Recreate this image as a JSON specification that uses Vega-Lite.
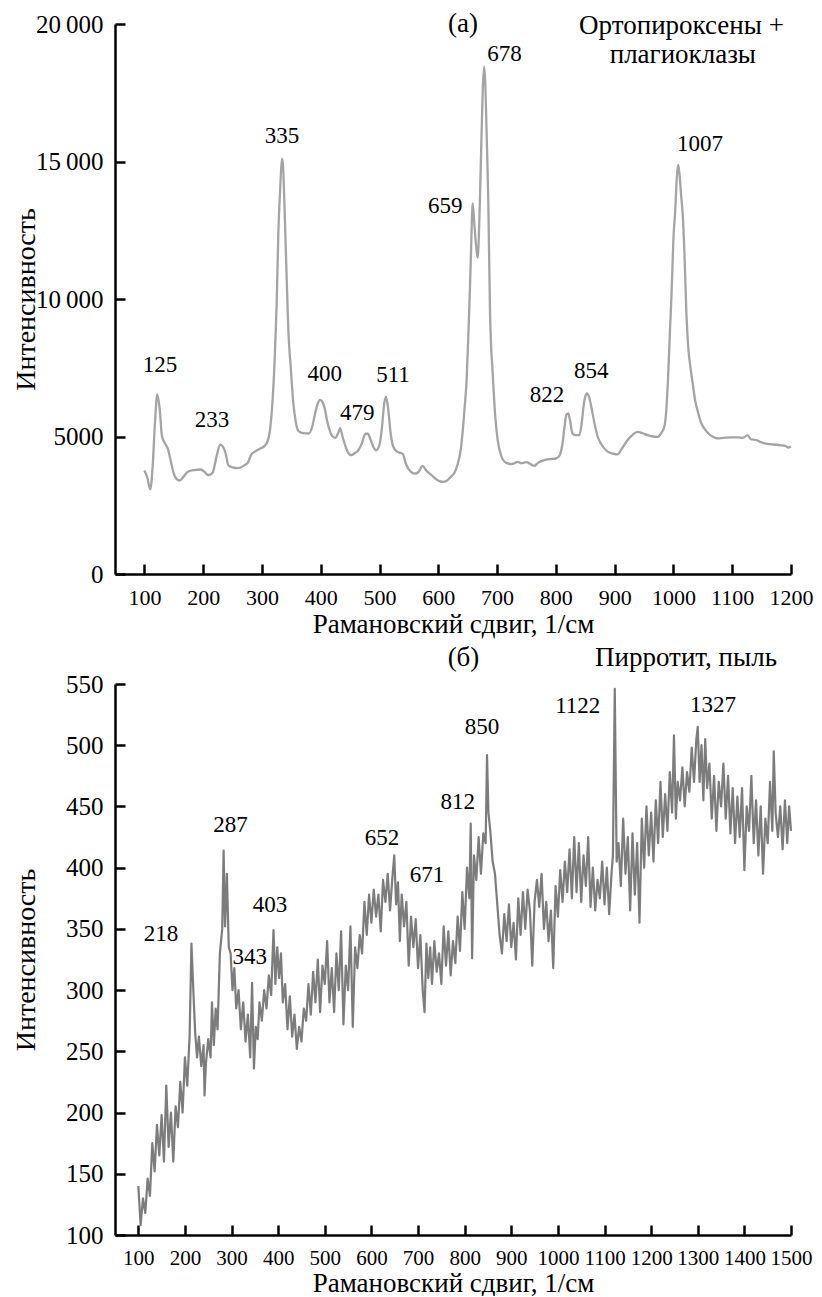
{
 "$schema": "https://vega.github.io/schema/vega-lite/v6.json",
 "padding": {"left": 12, "top": 10, "right": 4, "bottom": 0},
 "bounds": "flush",
 "spacing": 110,
 "config": {
  "font": "Liberation Serif, DejaVu Serif, Times New Roman, Times, Noto Serif, FreeSerif, serif",
  "view": {"stroke": null},
  "text": {"font": "Liberation Serif, DejaVu Serif, Times New Roman, Times, Noto Serif, FreeSerif, serif"},
  "axis": {"grid": true, "gridColor": "black", "gridOpacity": 1, "gridWidth": 2.5,
   "ticks": false, "domainColor": "black", "labelColor": "black", "titleColor": "black",
   "domainWidth": 2.5, "labelFont": "Liberation Serif, DejaVu Serif, Times New Roman, Times, Noto Serif, FreeSerif, serif", "titleFont": "Liberation Serif, DejaVu Serif, Times New Roman, Times, Noto Serif, FreeSerif, serif",
   "titleFontWeight": "normal", "labelOverlap": false, "labelFlush": false, "titleFontSize": 28, "format": "d"}
 },
 "datasets": {
  "top": [
   {"x":100,"y":3760},{"x":105,"y":3500},{"x":110,"y":3080},{"x":114,"y":3900},{"x":118,"y":5500},{"x":122,"y":6530},{"x":126,"y":6000},{"x":130,"y":5000},{"x":135,"y":4750},{"x":140,"y":4550},{"x":145,"y":4100},{"x":150,"y":3650},{"x":155,"y":3450},{"x":160,"y":3400},{"x":167,"y":3550},{"x":174,"y":3720},{"x":185,"y":3780},{"x":196,"y":3800},{"x":203,"y":3700},{"x":208,"y":3600},{"x":216,"y":3680},{"x":222,"y":4200},{"x":229,"y":4700},{"x":233,"y":4650},{"x":238,"y":4400},{"x":243,"y":3950},{"x":250,"y":3880},{"x":259,"y":3850},{"x":270,"y":3950},{"x":276,"y":4050},{"x":282,"y":4350},{"x":288,"y":4450},{"x":296,"y":4550},{"x":304,"y":4650},{"x":310,"y":4850},{"x":314,"y":5300},{"x":318,"y":6300},{"x":322,"y":8000},{"x":325,"y":9800},{"x":328,"y":12500},{"x":331,"y":14000},{"x":334,"y":15100},{"x":336,"y":14800},{"x":338,"y":13600},{"x":341,"y":11500},{"x":345,"y":8800},{"x":349,"y":7500},{"x":353,"y":6300},{"x":357,"y":5600},{"x":362,"y":5200},{"x":370,"y":5120},{"x":380,"y":5110},{"x":386,"y":5400},{"x":390,"y":5800},{"x":395,"y":6200},{"x":399,"y":6330},{"x":403,"y":6250},{"x":407,"y":6000},{"x":411,"y":5550},{"x":415,"y":5240},{"x":420,"y":5000},{"x":425,"y":4950},{"x":430,"y":5150},{"x":433,"y":5300},{"x":437,"y":5000},{"x":442,"y":4650},{"x":447,"y":4400},{"x":452,"y":4320},{"x":458,"y":4400},{"x":464,"y":4500},{"x":470,"y":4750},{"x":476,"y":5100},{"x":480,"y":5100},{"x":485,"y":4870},{"x":490,"y":4600},{"x":494,"y":4500},{"x":500,"y":4700},{"x":504,"y":5300},{"x":508,"y":6200},{"x":511,"y":6450},{"x":515,"y":5950},{"x":519,"y":5100},{"x":524,"y":4600},{"x":530,"y":4450},{"x":536,"y":4400},{"x":540,"y":4350},{"x":545,"y":4000},{"x":553,"y":3720},{"x":560,"y":3650},{"x":566,"y":3700},{"x":573,"y":3930},{"x":580,"y":3750},{"x":588,"y":3600},{"x":596,"y":3450},{"x":603,"y":3370},{"x":608,"y":3350},{"x":615,"y":3400},{"x":622,"y":3550},{"x":628,"y":3700},{"x":633,"y":4000},{"x":638,"y":4500},{"x":642,"y":5300},{"x":645,"y":6100},{"x":648,"y":7000},{"x":651,"y":8600},{"x":654,"y":10500},{"x":656,"y":12000},{"x":658.5,"y":13480},{"x":661,"y":12800},{"x":664,"y":12000},{"x":667,"y":11500},{"x":670,"y":13000},{"x":673,"y":15500},{"x":676,"y":17800},{"x":678,"y":18450},{"x":680,"y":17800},{"x":682,"y":16200},{"x":685,"y":13600},{"x":688,"y":9500},{"x":690,"y":8200},{"x":692,"y":7500},{"x":696,"y":6000},{"x":701,"y":4880},{"x":707,"y":4300},{"x":715,"y":4050},{"x":725,"y":4000},{"x":735,"y":4080},{"x":741,"y":4030},{"x":750,"y":4070},{"x":763,"y":3930},{"x":770,"y":4050},{"x":780,"y":4140},{"x":790,"y":4180},{"x":800,"y":4200},{"x":806,"y":4300},{"x":811,"y":4700},{"x":815,"y":5400},{"x":818,"y":5800},{"x":821,"y":5840},{"x":824,"y":5600},{"x":828,"y":5120},{"x":833,"y":5050},{"x":840,"y":5050},{"x":844,"y":5500},{"x":847,"y":6080},{"x":850,"y":6450},{"x":853,"y":6570},{"x":857,"y":6400},{"x":861,"y":6000},{"x":866,"y":5450},{"x":871,"y":5000},{"x":878,"y":4700},{"x":888,"y":4450},{"x":897,"y":4380},{"x":905,"y":4350},{"x":912,"y":4550},{"x":922,"y":4870},{"x":930,"y":5050},{"x":939,"y":5170},{"x":947,"y":5120},{"x":956,"y":5050},{"x":965,"y":5000},{"x":973,"y":4990},{"x":980,"y":5150},{"x":985,"y":5400},{"x":988,"y":6000},{"x":991,"y":7200},{"x":994,"y":8800},{"x":997,"y":10300},{"x":1000,"y":12200},{"x":1003,"y":13200},{"x":1006,"y":14500},{"x":1008,"y":14880},{"x":1010,"y":14600},{"x":1013,"y":13800},{"x":1016,"y":13000},{"x":1019,"y":11500},{"x":1022,"y":9500},{"x":1025,"y":8300},{"x":1029,"y":7500},{"x":1033,"y":6900},{"x":1037,"y":6300},{"x":1041,"y":5950},{"x":1047,"y":5500},{"x":1053,"y":5280},{"x":1060,"y":5100},{"x":1068,"y":4980},{"x":1075,"y":4930},{"x":1085,"y":4950},{"x":1098,"y":4970},{"x":1110,"y":4970},{"x":1118,"y":4950},{"x":1126,"y":5050},{"x":1132,"y":4900},{"x":1140,"y":4880},{"x":1148,"y":4800},{"x":1155,"y":4750},{"x":1165,"y":4720},{"x":1175,"y":4700},{"x":1183,"y":4680},{"x":1190,"y":4660},{"x":1195,"y":4600},{"x":1200,"y":4630}
  ],
  "topPeaks": [
   {"x":126.6,"y":7600,"label":"125"},{"x":215,"y":5600,"label":"233"},{"x":334,"y":15925,"label":"335"},{"x":407,"y":7272,"label":"400"},{"x":462,"y":5854,"label":"479"},{"x":523,"y":7236,"label":"511"},{"x":612,"y":13381,"label":"659"},{"x":712.6,"y":18909,"label":"678"},{"x":785,"y":6509,"label":"822"},{"x":860,"y":7381,"label":"854"},{"x":1045,"y":15636,"label":"1007"}
  ],
  "topTitles": [
   {"x":642,"y":20000,"label":"(а)"},{"x":1013.7,"y":19911,"label":"Ортопироксены +"},{"x":1016,"y":18878,"label":"плагиоклазы"}
  ],
  "bottom": [
   {"x":100,"y":140},{"x":105,"y":108},{"x":110,"y":130},{"x":115,"y":118},{"x":120,"y":146},{"x":125,"y":132},{"x":130,"y":175},{"x":135,"y":152},{"x":140,"y":190},{"x":145,"y":165},{"x":150,"y":198},{"x":155,"y":160},{"x":160,"y":222},{"x":165,"y":172},{"x":170,"y":200},{"x":175,"y":160},{"x":180,"y":205},{"x":185,"y":188},{"x":190,"y":225},{"x":195,"y":200},{"x":200,"y":245},{"x":205,"y":222},{"x":210,"y":262},{"x":214,"y":338},{"x":218,"y":300},{"x":222,"y":265},{"x":226,"y":245},{"x":230,"y":262},{"x":235,"y":238},{"x":240,"y":255},{"x":242,"y":214},{"x":245,"y":240},{"x":250,"y":260},{"x":255,"y":245},{"x":258,"y":290},{"x":262,"y":255},{"x":266,"y":285},{"x":270,"y":268},{"x":275,"y":330},{"x":280,"y":350},{"x":283,"y":414},{"x":286,"y":352},{"x":290,"y":395},{"x":294,"y":335},{"x":298,"y":330},{"x":302,"y":300},{"x":306,"y":318},{"x":310,"y":285},{"x":315,"y":300},{"x":320,"y":268},{"x":325,"y":290},{"x":330,"y":258},{"x":335,"y":280},{"x":340,"y":245},{"x":344,"y":306},{"x":348,"y":236},{"x":352,"y":270},{"x":356,"y":260},{"x":360,"y":290},{"x":365,"y":275},{"x":370,"y":300},{"x":375,"y":285},{"x":380,"y":312},{"x":385,"y":296},{"x":390,"y":349},{"x":394,"y":305},{"x":398,"y":335},{"x":402,"y":310},{"x":406,"y":330},{"x":410,"y":290},{"x":415,"y":305},{"x":420,"y":268},{"x":425,"y":295},{"x":430,"y":262},{"x":435,"y":280},{"x":440,"y":252},{"x":445,"y":270},{"x":450,"y":258},{"x":455,"y":285},{"x":460,"y":275},{"x":465,"y":305},{"x":470,"y":280},{"x":475,"y":315},{"x":480,"y":290},{"x":485,"y":325},{"x":490,"y":282},{"x":495,"y":320},{"x":500,"y":305},{"x":505,"y":340},{"x":510,"y":290},{"x":515,"y":318},{"x":520,"y":282},{"x":525,"y":330},{"x":530,"y":300},{"x":535,"y":348},{"x":540,"y":272},{"x":545,"y":320},{"x":550,"y":300},{"x":555,"y":352},{"x":560,"y":270},{"x":565,"y":335},{"x":570,"y":318},{"x":575,"y":345},{"x":580,"y":330},{"x":585,"y":372},{"x":590,"y":345},{"x":595,"y":378},{"x":600,"y":355},{"x":605,"y":382},{"x":610,"y":360},{"x":615,"y":378},{"x":620,"y":348},{"x":625,"y":390},{"x":630,"y":372},{"x":635,"y":395},{"x":640,"y":365},{"x":645,"y":392},{"x":649,"y":410},{"x":653,"y":370},{"x":657,"y":388},{"x":661,"y":340},{"x":665,"y":378},{"x":670,"y":352},{"x":675,"y":372},{"x":680,"y":320},{"x":685,"y":360},{"x":690,"y":335},{"x":695,"y":358},{"x":700,"y":318},{"x":705,"y":345},{"x":710,"y":300},{"x":714,"y":282},{"x":718,"y":338},{"x":722,"y":310},{"x":726,"y":335},{"x":730,"y":305},{"x":735,"y":340},{"x":740,"y":315},{"x":745,"y":330},{"x":750,"y":305},{"x":755,"y":352},{"x":760,"y":320},{"x":765,"y":348},{"x":770,"y":312},{"x":775,"y":340},{"x":780,"y":322},{"x":785,"y":360},{"x":790,"y":332},{"x":795,"y":380},{"x":800,"y":350},{"x":805,"y":400},{"x":810,"y":375},{"x":813,"y":436},{"x":816,"y":326},{"x":820,"y":410},{"x":825,"y":390},{"x":830,"y":425},{"x":835,"y":395},{"x":840,"y":428},{"x":845,"y":420},{"x":848,"y":492},{"x":851,"y":445},{"x":855,"y":430},{"x":860,"y":405},{"x":865,"y":395},{"x":870,"y":370},{"x":875,"y":345},{"x":880,"y":330},{"x":885,"y":362},{"x":890,"y":340},{"x":895,"y":370},{"x":900,"y":335},{"x":905,"y":355},{"x":910,"y":325},{"x":915,"y":375},{"x":920,"y":345},{"x":925,"y":380},{"x":930,"y":350},{"x":935,"y":382},{"x":940,"y":365},{"x":945,"y":320},{"x":950,"y":372},{"x":955,"y":390},{"x":960,"y":368},{"x":965,"y":395},{"x":970,"y":350},{"x":975,"y":372},{"x":980,"y":340},{"x":985,"y":365},{"x":990,"y":318},{"x":995,"y":385},{"x":1000,"y":360},{"x":1005,"y":398},{"x":1010,"y":372},{"x":1015,"y":405},{"x":1020,"y":380},{"x":1025,"y":415},{"x":1030,"y":375},{"x":1035,"y":425},{"x":1040,"y":380},{"x":1045,"y":420},{"x":1050,"y":372},{"x":1055,"y":410},{"x":1060,"y":385},{"x":1065,"y":425},{"x":1070,"y":368},{"x":1075,"y":400},{"x":1080,"y":365},{"x":1085,"y":390},{"x":1090,"y":375},{"x":1095,"y":405},{"x":1100,"y":370},{"x":1105,"y":400},{"x":1110,"y":362},{"x":1115,"y":395},{"x":1118,"y":410},{"x":1122,"y":546},{"x":1126,"y":405},{"x":1130,"y":420},{"x":1135,"y":385},{"x":1140,"y":440},{"x":1145,"y":395},{"x":1150,"y":425},{"x":1155,"y":365},{"x":1160,"y":428},{"x":1165,"y":378},{"x":1170,"y":420},{"x":1175,"y":355},{"x":1180,"y":440},{"x":1185,"y":400},{"x":1190,"y":450},{"x":1195,"y":410},{"x":1200,"y":445},{"x":1205,"y":405},{"x":1210,"y":455},{"x":1215,"y":420},{"x":1220,"y":470},{"x":1225,"y":425},{"x":1230,"y":460},{"x":1235,"y":430},{"x":1240,"y":478},{"x":1245,"y":445},{"x":1249,"y":508},{"x":1253,"y":440},{"x":1257,"y":470},{"x":1262,"y":455},{"x":1267,"y":482},{"x":1272,"y":450},{"x":1277,"y":478},{"x":1282,"y":462},{"x":1287,"y":498},{"x":1292,"y":470},{"x":1297,"y":505},{"x":1300,"y":515},{"x":1304,"y":470},{"x":1308,"y":500},{"x":1312,"y":455},{"x":1316,"y":505},{"x":1320,"y":465},{"x":1325,"y":485},{"x":1330,"y":440},{"x":1335,"y":475},{"x":1340,"y":430},{"x":1345,"y":470},{"x":1350,"y":450},{"x":1355,"y":485},{"x":1360,"y":440},{"x":1365,"y":475},{"x":1370,"y":428},{"x":1375,"y":465},{"x":1380,"y":420},{"x":1385,"y":458},{"x":1390,"y":425},{"x":1395,"y":465},{"x":1400,"y":398},{"x":1405,"y":450},{"x":1410,"y":430},{"x":1415,"y":475},{"x":1420,"y":420},{"x":1425,"y":455},{"x":1430,"y":410},{"x":1435,"y":450},{"x":1440,"y":395},{"x":1445,"y":440},{"x":1450,"y":420},{"x":1455,"y":470},{"x":1460,"y":430},{"x":1463,"y":495},{"x":1467,"y":445},{"x":1472,"y":425},{"x":1477,"y":450},{"x":1482,"y":415},{"x":1487,"y":455},{"x":1492,"y":420},{"x":1496,"y":450},{"x":1500,"y":430}
  ],
  "bottomPeaks": [
   {"x":148.7,"y":345.8,"label":"218"},{"x":297.7,"y":435,"label":"287"},{"x":339,"y":327,"label":"343"},{"x":382.5,"y":369.5,"label":"403"},{"x":622.7,"y":424.6,"label":"652"},{"x":719,"y":394,"label":"671"},{"x":785,"y":453.6,"label":"812"},{"x":837,"y":515,"label":"850"},{"x":1042.5,"y":532,"label":"1122"},{"x":1332.7,"y":533,"label":"1327"}
  ],
  "bottomTitles": [
   {"x":797.5,"y":571,"label":"(б)"},{"x":1274.8,"y":571,"label":"Пирротит, пыль"}
  ]
 },
 "vconcat": [
  {
   "width": 676, "height": 550,
   "encoding": {
    "x": {"field": "x", "type": "quantitative",
     "scale": {"domain": [50, 1200], "nice": false, "zero": false},
     "axis": {"values": [100,200,300,400,500,600,700,800,900,1000,1100,1200], "title": "Рамановский сдвиг, 1/см",
      "labelFontSize": 22, "labelPadding": 13.5, "titleY": 58, "titleFontSize": 27, "titleBaseline": "alphabetic",
      "gridDash": [10, 540], "gridDashOffset": 10}},
    "y": {"field": "y", "type": "quantitative",
     "scale": {"domain": [0, 20000], "nice": false},
     "axis": {"values": [0,5000,10000,15000,20000], "title": "Интенсивность",
      "labelExpr": "datum.value >= 10000 ? floor(datum.value/1000) + '\u2009000' : '' + datum.value",
      "labelFontSize": 25, "labelPadding": 12, "titleX": -81, "titleY": 275, "titleBaseline": "alphabetic",
      "gridDash": [10, 2000]}}
   },
   "layer": [
    {"data": {"name": "top"}, "mark": {"type": "line", "color": "#a4a4a4", "strokeWidth": 2.3, "interpolate": "monotone", "strokeJoin": "round"}},
    {"data": {"name": "topPeaks"}, "mark": {"type": "text", "fontSize": 23, "align": "center", "baseline": "middle", "color": "black"},
     "encoding": {"text": {"field": "label"}}},
    {"data": {"name": "topTitles"}, "mark": {"type": "text", "fontSize": 27, "align": "center", "baseline": "middle", "color": "black"},
     "encoding": {"text": {"field": "label"}}}
   ]
  },
  {
   "width": 676, "height": 551,
   "encoding": {
    "x": {"field": "x", "type": "quantitative",
     "scale": {"domain": [50, 1500], "nice": false, "zero": false},
     "axis": {"values": [100,200,300,400,500,600,700,800,900,1000,1100,1200,1300,1400,1500], "title": "Рамановский сдвиг, 1/см",
      "labelFontSize": 21, "labelPadding": 12.5, "titleY": 56, "titleFontSize": 27, "titleBaseline": "alphabetic",
      "gridDash": [10, 541], "gridDashOffset": 10}},
    "y": {"field": "y", "type": "quantitative",
     "scale": {"domain": [100, 550], "nice": false, "zero": false},
     "axis": {"values": [100,150,200,250,300,350,400,450,500,550], "title": "Интенсивность",
      "labelFontSize": 25, "labelPadding": 12, "titleX": -81, "titleY": 275.5, "titleBaseline": "alphabetic",
      "gridDash": [10, 2000]}}
   },
   "layer": [
    {"data": {"name": "bottom"}, "mark": {"type": "line", "color": "#505050", "strokeWidth": 2.2, "strokeJoin": "round", "opacity": 0.75}},
    {"data": {"name": "bottomPeaks"}, "mark": {"type": "text", "fontSize": 23, "align": "center", "baseline": "middle", "color": "black"},
     "encoding": {"text": {"field": "label"}}},
    {"data": {"name": "bottomTitles"}, "mark": {"type": "text", "fontSize": 27, "align": "center", "baseline": "middle", "color": "black"},
     "encoding": {"text": {"field": "label"}}}
   ]
  }
 ]
}
